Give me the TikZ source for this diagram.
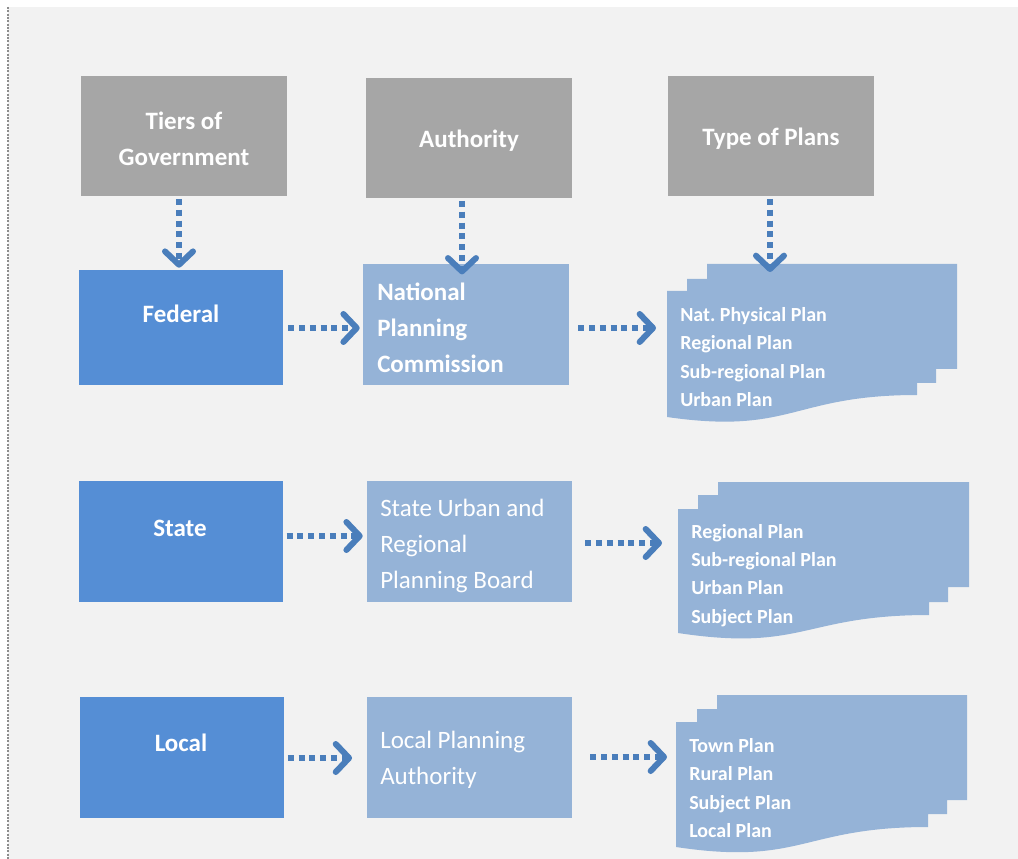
\documentclass[tikz,border=0pt]{standalone}
\usepackage{fontspec}
\setmainfont{Carlito}
\usetikzlibrary{arrows.meta}
\frenchspacing
\definecolor{bg}{HTML}{F2F2F2}
\definecolor{hdr}{HTML}{A6A6A6}
\definecolor{lvl}{HTML}{558ED5}
\definecolor{auth}{HTML}{95B3D7}
\definecolor{arrc}{HTML}{4A7EBB}
\definecolor{frame}{HTML}{8C8C8C}
\begin{document}
\begin{tikzpicture}[x=0.75pt,y=-0.75pt,
  big/.style={font=\bfseries\fontsize{18.75pt}{27pt}\selectfont},
  bigreg/.style={font=\fontsize{18.75pt}{27pt}\selectfont},
  small/.style={font=\bfseries\fontsize{15pt}{21.25pt}\selectfont},
  hdrbox/.style={fill=hdr, minimum width=154.5pt, minimum height=90pt, inner sep=0pt},
  lvlbox/.style={fill=lvl, minimum width=153pt, inner sep=0pt},
  authbox/.style={fill=auth, minimum width=154pt, minimum height=90.75pt, inner sep=0pt},
  doc/.style={fill=auth},
  txt/.style={text=white, inner sep=0pt, align=left, anchor=west},
  ctxt/.style={text=white, inner sep=0pt, align=center},
  arr/.style={draw=arrc, line width=4.5pt, dash pattern=on 4.5pt off 3.6pt,
    -{Straight Barb[length=10pt, width=21pt, line width=4.5pt, round]}}
]
\useasboundingbox (0,0) rectangle (1018,859);
\fill[bg] (8,7) rectangle (1018,859);
\draw[frame, line width=0.9pt, dash pattern=on 1.5pt off 1pt] (8,7) -- (8,859);

% headers
\node[hdrbox] (tiers) at (184,136) {};
\node[hdrbox] (auth) at (469,138) {};
\node[hdrbox] (type) at (771,136) {};
\node[ctxt, big] (tiers-t) at (184,139) {Tiers of\\Government};
\node[ctxt, big] (auth-t) at (469,141) {Authority};
\node[ctxt, big] (type-t) at (771,139) {Type of Plans};

% level boxes
\node[lvlbox, minimum height=86.25pt] (fed) at (181,327.5) {};
\node[lvlbox, minimum height=90.75pt] (state) at (181,541.5) {};
\node[lvlbox, minimum height=90.75pt] (local) at (181.5,757.5) {};
\node[ctxt, big] (fed-t) at (181,314) {Federal};
\node[ctxt, big] (state-t) at (180,528) {State};
\node[ctxt, big] (local-t) at (181,743) {Local};

% authority boxes
\node[authbox, minimum width=154.5pt] (npc) at (466,324.5) {};
\node[authbox, minimum width=153.75pt] (surpb) at (469.5,541.5) {};
\node[authbox, minimum width=153.75pt] (lpa) at (469.5,757.5) {};
\node[txt, big] (npc-t) at (377,328) {National\\Planning\\Commission};
\node[txt, bigreg] (surpb-t) at (380,545.5) {State Urban and\\Regional\\Planning Board};
\node[txt, bigreg] (lpa-t) at (380,760) {Local Planning\\Authority};

% multi-document shapes
\fill[doc] (667,417) -- (667,291) -- (687,291) -- (687,279) -- (707,279) -- (707,264)
  -- (957,264) -- (957,369) -- (936,369) -- (936,383) -- (917,383) -- (917,395)
  .. controls (792,395) and (792,435) .. (667,417) -- cycle;
\fill[doc] (678,633) -- (678,509) -- (698,509) -- (698,495) -- (718,495) -- (718,482)
  -- (969,482) -- (969,587) -- (948,587) -- (948,602) -- (929,602) -- (929,615)
  .. controls (803.5,615) and (803.5,652) .. (678,633) -- cycle;
\fill[doc] (676,847) -- (676,722) -- (697,722) -- (697,709) -- (717,709) -- (717,695)
  -- (967,695) -- (967,800) -- (947,800) -- (947,814) -- (928,814) -- (928,827)
  .. controls (802,827) and (802,866) .. (676,847) -- cycle;
\coordinate (doc1) at (667,328);
\coordinate (doc2) at (678,543);
\coordinate (doc3) at (676,757);
\coordinate (doc1top) at (770,264);
\node[txt, small] (doc1-t) at (680,357) {Nat. Physical Plan\\Regional Plan\\Sub-regional Plan\\Urban Plan};
\node[txt, small] (doc2-t) at (691,575.5) {Regional Plan\\Sub-regional Plan\\Urban Plan\\Subject Plan};
\node[txt, small] (doc3-t) at (689,788) {Town Plan\\Rural Plan\\Subject Plan\\Local Plan};

% vertical arrows
\coordinate (c1) at (179,0);
\coordinate (c2) at (462,0);
\draw[arr, shorten <=2pt, shorten >=1.5pt] (tiers.south -| c1) -- (fed.north -| c1);
\draw[arr, shorten <=2pt, shorten >=-8pt] (auth.south -| c2) -- (npc.north -| c2);
\draw[arr, shorten <=2pt, shorten >=-6pt] (type.south -| doc1top) -- (doc1top);

% horizontal arrows
\coordinate (r1) at (0,328);
\coordinate (r2) at (0,536);
\coordinate (r3) at (0,758);
\draw[arr, shorten <=3.75pt, shorten >=2.25pt] (fed.east |- r1) -- (npc.west |- r1);
\draw[arr, shorten <=6.75pt, shorten >=8.25pt] (npc.east |- doc1) -- (doc1);
\draw[arr, shorten <=2.5pt, shorten >=3pt] (state.east |- r2) -- (surpb.west |- r2);
\draw[arr, shorten <=9.75pt, shorten >=12pt] (surpb.east |- doc2) -- (doc2);
\draw[arr, shorten <=3pt, shorten >=11pt] (local.east |- r3) -- (lpa.west |- r3);
\draw[arr, shorten <=13.5pt, shorten >=6.75pt] (lpa.east |- doc3) -- (doc3);
\end{tikzpicture}
\end{document}
